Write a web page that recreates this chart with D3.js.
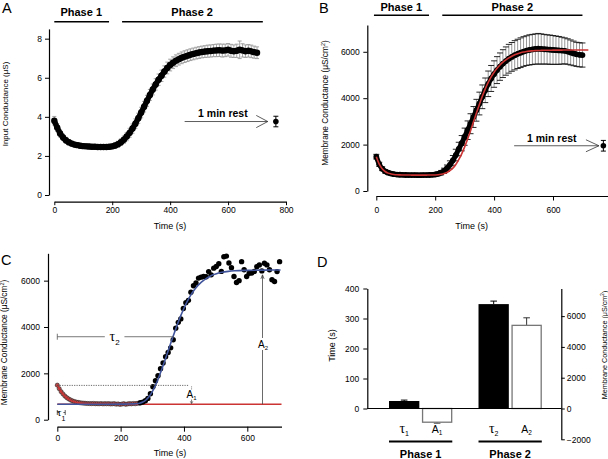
<!DOCTYPE html>
<html><head><meta charset="utf-8">
<script src="https://cdn.jsdelivr.net/npm/d3@7"></script>
<style>body{margin:0;background:#fff}svg{display:block}</style>
</head><body>
<svg id="fig" width="608" height="459"></svg>
<script>
// ---------------- DATA ----------------
// Panel A: input conductance (uS) vs time (s)
const timeA = [0,10,20,30,40,50,60,70,80,90,100,110,120,130,140,150,160,170,180,190,200,210,220,230,240,250,260,270,280,290,300,310,320,330,340,350,360,370,380,390,400,410,420,430,440,450,460,470,480,490,500,510,520,530,540,550,560,570,580,590,600,610,620,630,640,650,660,670,680,690,700];
const condA = [3.80,3.45,3.15,2.95,2.80,2.70,2.63,2.58,2.55,2.52, 2.50,2.49,2.48,2.47,2.47,2.46,2.46,2.46,2.46,2.47, 2.49,2.53,2.60,2.70,2.83,2.99,3.18,3.40,3.65,3.93, 4.22,4.52,4.82,5.12,5.40,5.66,5.90,6.10,6.32,6.50, 6.65,6.77,6.87,6.95,7.02,7.08,7.13,7.18,7.22,7.26, 7.29,7.32,7.34,7.36,7.37,7.39,7.40,7.41,7.39,7.40, 7.43,7.38,7.36,7.38,7.43,7.40,7.36,7.38,7.35,7.31, 7.28];
const errA  = [0.22,0.20,0.18,0.16,0.15,0.14,0.13,0.13,0.12,0.12, 0.12,0.12,0.12,0.12,0.12,0.12,0.12,0.12,0.12,0.12, 0.13,0.14,0.15,0.17,0.19,0.21,0.23,0.24,0.25,0.26, 0.27,0.27,0.28,0.28,0.28,0.29,0.29,0.29,0.29,0.30, 0.30,0.30,0.30,0.30,0.30,0.30,0.30,0.30,0.30,0.30, 0.30,0.30,0.30,0.31,0.31,0.31,0.32,0.32,0.33,0.32, 0.32,0.33,0.32,0.34,0.45,0.34,0.32,0.32,0.32,0.31, 0.30];
const restA = {t:765, v:3.76, e:0.27};
const ticksAx = [0,200,400,600,800];
const ticksAy = [0,2,4,6,8];

// Panel B: membrane conductance (uS/cm2) vs time (s)
const timeB = timeA;
const condB = [1480,1150,960,850,790,750,725,710,700,695, 690,688,686,685,684,684,685,686,690,698, 712,740,790,870,980,1130,1320,1550,1810,2060, 2340,2620,2900,3190,3480,3770,4060,4340,4620,4850, 5040,5210,5360,5490,5600,5700,5780,5850,5910,5960, 6010,6050,6080,6100,6120,6130,6120,6110,6100,6090, 6080,6070,6060,6050,6040,6010,5970,5930,5890,5870, 5860];
const errB  = [100,90,80,75,70,65,62,60,60,60, 60,60,60,60,60,60,60,60,62,65, 70,80,95,115,140,170,210,250,290,330, 370,400,430,450,470,490,510,530,550,560, 570,580,590,600,610,620,620,630,630,640, 640,640,650,650,650,660,650,640,630,630, 620,610,600,580,560,550,540,530,520,520, 520];
const fitTimeB = [0,10,20,30,40,50,60,70,80,90,100,110,120,130,140,150,160,170,180,190,200,210,220,230,240,250,260,270,280,290,300,310,320,330,340,350,360,370,380,390,400,410,420,430,440,450,460,470,480,490,500,510,520,530,540,550,560,570,580,590,600,610,620,630,640,650,660,670,680,690,700,710,720];
const fitB = [1480,1160,960,840,770,735,712,700,694,690, 688,687,686,686,686,686,686,686,687,688, 692,700,718,750,800,875,985,1140,1350,1600, 1900,2240,2600,2980,3360,3730,4080,4400,4680,4920, 5120,5290,5430,5550,5650,5740,5810,5870,5920,5960, 5990,6010,6030,6040,6050,6055,6060,6063,6066,6068, 6070,6071,6072,6073,6074,6074,6075,6075,6075,6075, 6075,6075,6075];
const restB = {t:771, v:1950, e:230};
const ticksBx = [0,200,400,600];
const ticksBy = [0,2000,4000,6000];

// Panel C: single-cell example with fits
const timeC1 = [0,6,12,18,24,30,36,42,48,54,60,66,72,78,84,90,96,102,108,114,120,126,132,138,144,150,156,162,168,174,180,186,192,198,204,210,216,222,228,234,240,246,252,258];
const condC1 = [1490,1340,1210,1110,1020,950,895,850,810,785,760,745,730,720,712,705,700,698,695,700,690,692,688,695,685,690,688,692,680,685,690,670,680,660,675,690,665,680,695,685,700,690,705,715];
const timeC2 = [262,270,278,286,294,302,310,318,326,334,342,350,358,366,374,382,390,398,406,414,422,430,438,446,454,462,470,478,486,494,502,510,518,526,534,542,550,558,566,574,582,590,598,606,614,622,630,638,646,654,662,670,678,686,694,702];
const condC2 = [730,760,820,920,1120,1420,1680,1900,2200,2450,2720,2900,3100,3450,3950,4200,4350,4800,5050,5150,5500,5780,5900,6110,6150,6180,6170,6390,6250,6540,6610,6730,6400,7030,7060,6760,6560,6180,5920,6000,6820,6470,6180,6320,6330,6400,6600,6680,6420,6750,6680,6470,6040,5960,6390,6820];
const decayTimeC = [0,10,20,30,40,50,60,70,80,90,100,120,140,160,200,260];
const decayFitC  = [1490,1250,1070,940,850,790,750,722,704,692,684,675,670,668,666,665];
const riseTimeC = [0,50,100,150,200,220,240,250,260,270,280,290,300,310,320,330,340,350,360,370,380,390,400,410,420,430,440,450,460,470,480,490,500,520,540,560,600,650,705];
const riseFitC  = [665,665,666,667,670,674,682,690,710,760,850,1000,1210,1480,1810,2180,2570,2970,3370,3760,4140,4490,4810,5090,5340,5550,5730,5870,5990,6090,6170,6240,6290,6360,6400,6425,6445,6455,6460];
const baseC = 665;          // steady level after phase 1
const tau1C = 25, tau2C = 368, tau2Level = 3580;
const a1Level = 1480, a2Level = 6250, a2Time = 648, a1Time = 424;
const ticksCx = [0,200,400,600];
const ticksCy = [0,2000,4000,6000];

// Panel D: summary bars
const phasesD = ["Phase 1","Phase 2"];
const tauD    = [25, 348];
const tauErrD = [3, 10];
const ampD    = [-890, 5400];
const ampErrD = [60, 490];
const ticksDl = [0,100,200,300,400];
const ticksDr = [-2000,0,2000,4000,6000];

// ---------------- DRAWING ----------------
const FONT = '"Liberation Sans", Arial, Helvetica, sans-serif';
const SERIF = '"Liberation Serif", "Times New Roman", serif';
const svg = d3.select("#fig");
const fmt = d3.format("d");

function axisStyle(g, fs){
  g.attr("font-family", FONT);
  g.select(".domain").attr("stroke","#000").attr("stroke-width",1.2);
  g.selectAll(".tick line").attr("stroke","#000").attr("stroke-width",1);
  g.selectAll(".tick text").attr("font-family",FONT).attr("font-size",fs||8.5).attr("fill","#000");
}
function txt(x,y,s,o){
  o=o||{};
  return svg.append("text").attr("x",x).attr("y",y).text(s)
    .attr("font-family",o.family||FONT).attr("font-size",o.size||9)
    .attr("font-weight",o.weight||"normal").attr("text-anchor",o.anchor||"middle").attr("fill",o.fill||"#000");
}
function ylabel(x,y,fs){
  return svg.append("text").attr("transform",`translate(${x},${y}) rotate(-90)`)
    .attr("text-anchor","middle").attr("font-family",FONT).attr("font-size",fs);
}
function conductanceLabel(x,y,fs){
  const t = ylabel(x,y,fs);
  t.append("tspan").text("Membrane Conductance (μS/cm");
  t.append("tspan").attr("font-size",fs*0.65).attr("dy",-fs*0.4).text("2");
  t.append("tspan").attr("dy",fs*0.4).text(")");
}
function hline(x1,x2,y,w,c){ return svg.append("line").attr("x1",x1).attr("x2",x2).attr("y1",y).attr("y2",y).attr("stroke",c||"#000").attr("stroke-width",w||1); }
function vline(x,y1,y2,w,c){ return svg.append("line").attr("x1",x).attr("x2",x).attr("y1",y1).attr("y2",y2).attr("stroke",c||"#000").attr("stroke-width",w||1); }
function errorBars(g, ts, vs, es, xs, ys, lineC, capC, cw, sw){
  const d = ts.map((t,i)=>({x:xs(t), lo:ys(vs[i]-es[i]), hi:ys(vs[i]+es[i])}));
  g.selectAll(null).data(d).join("line").attr("x1",p=>p.x).attr("x2",p=>p.x).attr("y1",p=>p.lo).attr("y2",p=>p.hi).attr("stroke",lineC).attr("stroke-width",sw);
  g.selectAll(null).data(d).join("line").attr("x1",p=>p.x-cw).attr("x2",p=>p.x+cw).attr("y1",p=>p.lo).attr("y2",p=>p.lo).attr("stroke",capC).attr("stroke-width",sw);
  g.selectAll(null).data(d).join("line").attr("x1",p=>p.x-cw).attr("x2",p=>p.x+cw).attr("y1",p=>p.hi).attr("y2",p=>p.hi).attr("stroke",capC).attr("stroke-width",sw);
}
function restMarker(xs, ys, rest, from, to, textT, textY, headL, headH, r){
  const y = ys(rest.v);
  hline(xs(from), xs(to), y, 0.8, "#333");
  const tip = xs(to);
  svg.append("polyline").attr("points",`${tip-headL},${y-headH} ${tip},${y} ${tip-headL},${y+headH}`).attr("fill","none").attr("stroke","#333").attr("stroke-width",0.8);
  const x = xs(rest.t);
  vline(x, ys(rest.v-rest.e), ys(rest.v+rest.e), 1, "#000");
  hline(x-2.5,x+2.5,ys(rest.v-rest.e),1); hline(x-2.5,x+2.5,ys(rest.v+rest.e),1);
  svg.append("circle").attr("cx",x).attr("cy",y).attr("r",r).attr("fill","#000");
  txt(xs(textT), textY, "1 min rest", {size:10.5, weight:"bold"});
}

// ===== Panel A =====
const xA = d3.scaleLinear().domain([0,800]).range([54.3,286]);
const yA = d3.scaleLinear().domain([0,8.5]).range([195,28.9]);
svg.append("g").attr("transform","translate(0,201.7)")
  .call(d3.axisBottom(xA).tickValues(ticksAx).tickFormat(fmt).tickSize(3.5).tickSizeOuter(0).tickPadding(2)).call(axisStyle);
svg.append("g").attr("transform","translate(49,0)")
  .call(d3.axisLeft(yA).tickValues(ticksAy).tickFormat(fmt).tickSize(4).tickSizeOuter(0).tickPadding(3)).call(axisStyle);
errorBars(svg.append("g"), timeA, condA, errA, xA, yA, "#9a9a9a", "#9a9a9a", 2, 0.9);
svg.append("path").datum(timeA)
  .attr("d", d3.line().x(t=>xA(t)).y((t,i)=>yA(condA[i])).curve(d3.curveMonotoneX))
  .attr("fill","none").attr("stroke","#000").attr("stroke-width",5.5).attr("stroke-linejoin","round");
svg.append("g").selectAll("circle").data(timeA).join("circle")
  .attr("cx",(t)=>xA(t)).attr("cy",(t,i)=>yA(condA[i])).attr("r",3.2).attr("fill","#000");
restMarker(xA, yA, restA, 450, 737, 582, 117, 11.5, 6.1, 2.8);
txt(2,13,"A",{size:14.5,anchor:"start"});
txt(xA(93),16,"Phase 1",{size:11,weight:"bold"});
hline(xA(0),xA(189),21.7,1.6);
txt(xA(476),16,"Phase 2",{size:11,weight:"bold"});
hline(xA(234),xA(720),21.7,1.6);
txt(170,228.5,"Time (s)",{size:9});
ylabel(7.6,104,8).text("Input Conductance (μS)");

// ===== Panel B =====
const xB = d3.scaleLinear().domain([0,800]).range([376.3,611.9]);
const yB = d3.scaleLinear().domain([0,7150]).range([191,25.1]);
svg.append("g").attr("transform","translate(0,196)")
  .call(d3.axisBottom(xB).tickValues(ticksBx).tickFormat(fmt).tickSize(4.5).tickSizeOuter(0).tickPadding(6)).call(axisStyle);
svg.append("g").attr("transform","translate(367.3,0)")
  .call(d3.axisLeft(yB).tickValues(ticksBy).tickFormat(fmt).tickSize(4).tickSizeOuter(0).tickPadding(3.5)).call(axisStyle);
errorBars(svg.append("g"), timeB, condB, errB, xB, yB, "#8a8a8a", "#111", 3, 0.9);
svg.append("path").datum(timeB)
  .attr("d", d3.line().x(t=>xB(t)).y((t,i)=>yB(condB[i])).curve(d3.curveMonotoneX))
  .attr("fill","none").attr("stroke","#000").attr("stroke-width",5).attr("stroke-linejoin","round");
svg.append("g").selectAll("circle").data(timeB).join("circle")
  .attr("cx",(t)=>xB(t)).attr("cy",(t,i)=>yB(condB[i])).attr("r",2.9).attr("fill","#000");
svg.append("path").datum(fitTimeB)
  .attr("d", d3.line().x(t=>xB(t)).y((t,i)=>yB(fitB[i])).curve(d3.curveMonotoneX))
  .attr("fill","none").attr("stroke","#cc3333").attr("stroke-width",1.6);
restMarker(xB, yB, restB, 468, 756, 596, 141.5, 13, 6, 2.8);
txt(319,13,"B",{size:14.5,anchor:"start"});
txt(xB(85),10.8,"Phase 1",{size:11,weight:"bold"});
hline(xB(-8),xB(179),15.3,1.6);
txt(xB(462),10.8,"Phase 2",{size:11,weight:"bold"});
hline(xB(224),xB(700),15.3,1.6);
txt(471.7,228.5,"Time (s)",{size:9});
conductanceLabel(328.3,103,8.3);

// ===== Panel C =====
const xC = d3.scaleLinear().domain([0,708]).range([57.3,281.5]);
const yC = d3.scaleLinear().domain([0,7180]).range([419.7,253.3]);
svg.append("g").attr("transform","translate(0,426.7)")
  .call(d3.axisBottom(xC).tickValues(ticksCx).tickFormat(fmt).tickSize(5).tickSizeOuter(0).tickPadding(3)).call(axisStyle);
svg.append("g").attr("transform","translate(48,0)")
  .call(d3.axisLeft(yC).tickValues(ticksCy).tickFormat(fmt).tickSize(4).tickSizeOuter(0).tickPadding(4)).call(axisStyle);
hline(xC(0), xC(708), yC(baseC), 1.6, "#cc3333");
svg.append("g").selectAll("circle").data(timeC1).join("circle")
  .attr("cx",t=>xC(t)).attr("cy",(t,i)=>yC(condC1[i])).attr("r",2.1)
  .attr("fill","#b94a4a").attr("stroke","#2a2a2a").attr("stroke-width",0.6);
svg.append("path").datum(decayTimeC)
  .attr("d", d3.line().x(t=>xC(t)).y((t,i)=>yC(decayFitC[i])).curve(d3.curveMonotoneX))
  .attr("fill","none").attr("stroke","#cc3333").attr("stroke-width",1.4);
svg.append("g").selectAll("circle").data(timeC2).join("circle")
  .attr("cx",t=>xC(t)).attr("cy",(t,i)=>yC(condC2[i])).attr("r",2.7).attr("fill","#000");
svg.append("path").datum(riseTimeC)
  .attr("d", d3.line().x(t=>xC(t)).y((t,i)=>yC(riseFitC[i])).curve(d3.curveMonotoneX))
  .attr("fill","none").attr("stroke","#40549c").attr("stroke-width",1.6);
// tau2 bracket
const yT2 = yC(tau2Level);
hline(xC(0), xC(150), yT2, 0.8, "#555");
hline(xC(212), xC(tau2C), yT2, 0.8, "#555");
vline(xC(0), yT2-3, yT2+3, 0.8, "#555");
{ const t = svg.append("text").attr("x",xC(181)).attr("y",yT2+4).attr("text-anchor","middle").attr("font-family",SERIF).attr("font-size",14);
  t.append("tspan").text("τ"); t.append("tspan").attr("font-family",FONT).attr("font-size",8).attr("dy",4).text("2"); }
// tau1 bracket
{ const xa=xC(0), xb=xC(tau1C), yb=412.5;
  vline(xa, yb-2.5, yb+2.5, 0.8, "#333"); vline(xb, yb-2.5, yb+2.5, 0.8, "#333");
  hline(xa, xa+1.8, yb, 0.8, "#333"); hline(xb-1.8, xb, yb, 0.8, "#333");
  const t = svg.append("text").attr("x",(xa+xb)/2).attr("y",yb+3.8).attr("text-anchor","middle").attr("font-family",SERIF).attr("font-size",11);
  t.append("tspan").text("τ"); t.append("tspan").attr("font-family",FONT).attr("font-size",7).attr("dy",5).text("1"); }
// A1 annotation
hline(xC(0), xC(415), yC(a1Level), 0.8, "#444").attr("stroke-dasharray","1.2,1.2");
{ const x=xC(a1Time);
  vline(x, yC(a1Level)+1, yC(a1Level)+4.5, 0.7, "#444").attr("stroke-dasharray","1,1");
  const t = svg.append("text").attr("x",x).attr("y",397.5).attr("text-anchor","middle").attr("font-family",FONT).attr("font-size",10);
  t.append("tspan").text("A"); t.append("tspan").attr("font-size",6).attr("dy",2).text("1");
  vline(x, 399.5, yC(baseC)-0.8, 0.7, "#444");
  svg.append("polyline").attr("points",`${x-1.3},${yC(baseC)-3} ${x},${yC(baseC)-0.8} ${x+1.3},${yC(baseC)-3}`).attr("fill","none").attr("stroke","#444").attr("stroke-width",0.7);
}
// A2 annotation
{ const x=xC(a2Time), y0=yC(baseC), y1=yC(a2Level);
  vline(x, y0, y1, 0.8, "#444");
  svg.append("polyline").attr("points",`${x-1.6},${y1+4} ${x},${y1} ${x+1.6},${y1+4}`).attr("fill","none").attr("stroke","#444").attr("stroke-width",0.8);
  svg.append("rect").attr("x",x-5.5).attr("y",338).attr("width",12).attr("height",12).attr("fill","#fff");
  const t = svg.append("text").attr("x",x+0.5).attr("y",348.3).attr("text-anchor","middle").attr("font-family",FONT).attr("font-size",10);
  t.append("tspan").text("A"); t.append("tspan").attr("font-size",6).attr("dy",2).text("2");
}
txt(1,265,"C",{size:14.5,anchor:"start"});
txt(170,456,"Time (s)",{size:9});
conductanceLabel(7.3,342.5,8.3);

// ===== Panel D =====
const yDL = d3.scaleLinear().domain([0,400]).range([408.5,288.5]);
const yDR = d3.scaleLinear().domain([-2000,7800]).range([439.3,288.4]);
const xD0 = d3.scaleBand().domain(phasesD).range([371.1,559.7]).paddingInner(0.293).paddingOuter(0.2);
const xD1 = d3.scaleBand().domain(["tau","amp"]).range([0,xD0.bandwidth()]).paddingInner(0.08);
svg.append("g").attr("transform","translate(367.3,0)")
  .call(d3.axisLeft(yDL).tickValues(ticksDl).tickFormat(fmt).tickSize(4).tickSizeOuter(0).tickPadding(4)).call(axisStyle);
svg.append("g").attr("transform","translate(561.3,0)")
  .call(d3.axisRight(yDR).tickValues(ticksDr).tickFormat(fmt).tickSize(3.5).tickSizeOuter(0).tickPadding(2)).call(axisStyle);
const gD = svg.append("g");
phasesD.forEach((p,i)=>{
  const xt = xD0(p)+xD1("tau")+xD1.bandwidth()/2;
  const xa = xD0(p)+xD1("amp")+xD1.bandwidth()/2;
  const yte = yDL(tauD[i]+tauErrD[i]);
  gD.append("line").attr("x1",xt).attr("x2",xt).attr("y1",yDL(tauD[i])).attr("y2",yte).attr("stroke","#000").attr("stroke-width",1);
  gD.append("line").attr("x1",xt-3.3).attr("x2",xt+3.3).attr("y1",yte).attr("y2",yte).attr("stroke","#000").attr("stroke-width",1);
  const ae = ampD[i] >= 0 ? ampD[i]+ampErrD[i] : ampD[i]-ampErrD[i];
  gD.append("line").attr("x1",xa).attr("x2",xa).attr("y1",yDR(ampD[i])).attr("y2",yDR(ae)).attr("stroke","#333").attr("stroke-width",1);
  gD.append("line").attr("x1",xa-3.3).attr("x2",xa+3.3).attr("y1",yDR(ae)).attr("y2",yDR(ae)).attr("stroke","#333").attr("stroke-width",1);
});
gD.selectAll(".tau").data(phasesD).join("rect")
  .attr("x",p=>xD0(p)+xD1("tau")).attr("width",xD1.bandwidth())
  .attr("y",(p,i)=>yDL(tauD[i])).attr("height",(p,i)=>yDL(0)-yDL(tauD[i])).attr("fill","#000");
gD.selectAll(".amp").data(phasesD).join("rect")
  .attr("x",p=>xD0(p)+xD1("amp")+0.6).attr("width",xD1.bandwidth()-1.2)
  .attr("y",(p,i)=>Math.min(yDR(ampD[i]),yDR(0))).attr("height",(p,i)=>Math.abs(yDR(0)-yDR(ampD[i])))
  .attr("fill","#fff").attr("stroke","#777").attr("stroke-width",1.3);
hline(367.3, 561.3, yDL(0), 1.2, "#000");
phasesD.forEach((p,i)=>{
  const xt = xD0(p)+xD1("tau")+xD1.bandwidth()/2;
  const xa = xD0(p)+xD1("amp")+xD1.bandwidth()/2;
  const t1 = svg.append("text").attr("x",xt).attr("y",433).attr("text-anchor","middle").attr("font-family",SERIF).attr("font-size",14);
  t1.append("tspan").text("τ"); t1.append("tspan").attr("font-family",FONT).attr("font-size",7).attr("dy",2.5).text(String(i+1));
  const t2 = svg.append("text").attr("x",xa).attr("y",432.7).attr("text-anchor","middle").attr("font-family",FONT).attr("font-size",10.5);
  t2.append("tspan").text("A"); t2.append("tspan").attr("font-size",6.5).attr("dy",2).text(String(i+1));
  hline(xD0(p), xD0(p)+xD0.bandwidth(), 441.5, 2);
  txt(xD0(p)+xD0.bandwidth()/2, 457.8, p, {size:11, weight:"bold"});
});
txt(317,266.7,"D",{size:14.5,anchor:"start"});
ylabel(335,345.5,9).text("Time (s)");
conductanceLabel(606.5,345,7.2);
</script>
</body></html>
